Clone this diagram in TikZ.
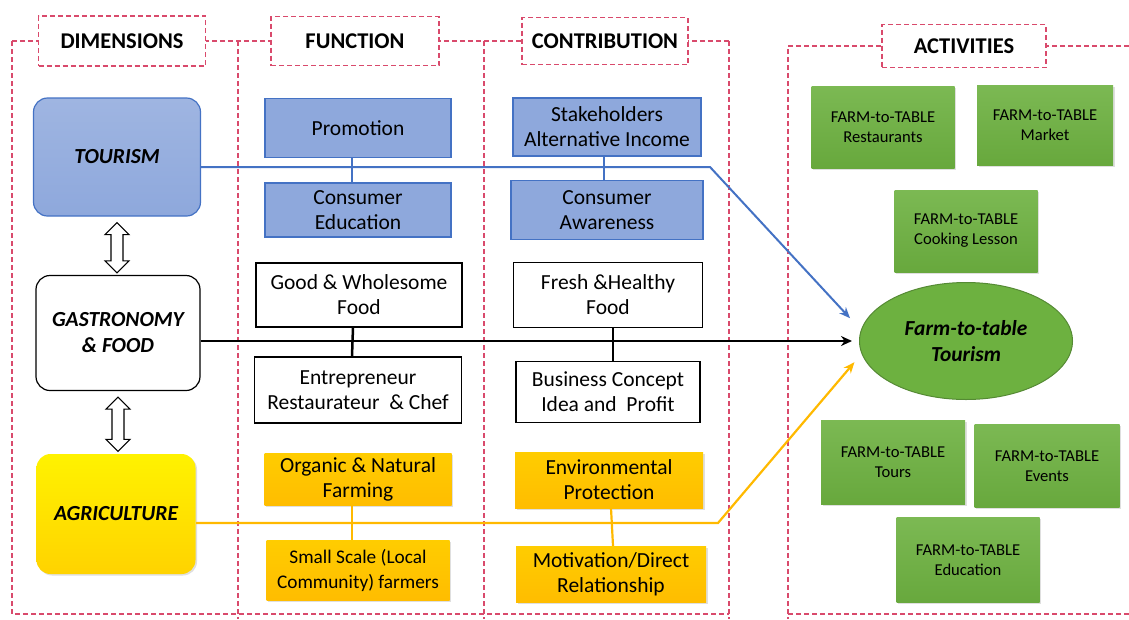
\documentclass[tikz,border=0pt]{standalone}
\usepackage{fontspec}
\setmainfont{Carlito}
\usetikzlibrary{arrows.meta,shapes.geometric,shadows,calc}

\definecolor{dashred}{HTML}{D94A6C}
\definecolor{tourblue}{HTML}{8EA8DC}
\definecolor{lineblue}{HTML}{4472C4}
\definecolor{farmgold}{HTML}{FFC000}
\definecolor{linegold}{HTML}{FFB900}
\definecolor{leafgreen}{HTML}{6DB140}
\definecolor{darkgreen}{HTML}{558A34}

\tikzset{
  dashline/.style={dashred, line width=1.1pt, dash pattern=on 5pt off 3pt},
  headbox/.style={draw=dashred, line width=1.1pt, dash pattern=on 5pt off 3pt,
    fill=white, font=\fontsize{22.5}{26}\selectfont\bfseries},
  dimbox/.style={draw, rounded corners=14pt, line width=1.2pt, align=center,
    font=\fontsize{21.5}{26}\selectfont\bfseries\itshape},
  bluebox/.style={draw=lineblue, fill=tourblue, line width=1.2pt, align=center,
    inner sep=0pt, font=\fontsize{21.5}{25}\selectfont},
  whitebox/.style={draw, fill=white, line width=1.3pt, align=center,
    inner sep=0pt, font=\fontsize{21.5}{25}\selectfont},
  yellowbox/.style={top color=farmgold!80!yellow, bottom color=farmgold!95!orange,
    draw=none, align=center, inner sep=0pt, font=\fontsize{21.5}{25}\selectfont,
    drop shadow={shadow xshift=1.5pt, shadow yshift=-1.5pt, opacity=0.25}},
  greenbox/.style={top color=leafgreen!90!white, bottom color=leafgreen!95!black,
    draw=none, align=center, inner sep=0pt, minimum width=143, minimum height=82,
    font=\fontsize{16.6}{20}\selectfont,
    drop shadow={shadow xshift=1.5pt, shadow yshift=-1.5pt, opacity=0.25}},
  blueline/.style={lineblue, line width=2pt},
  blackline/.style={black, line width=2.5pt},
  goldline/.style={linegold, line width=2.2pt}
}

% hollow two-way block arrow between two nodes
\newcommand\twoway[2]{%
  \draw[line width=1.1pt, fill=white, line join=miter] let \p1=(#1.south), \p2=(#2.north) in
    (\x1,\y1-6pt) -- ++(12pt,-12pt) -- ++(-6pt,0) |- (\x1+6pt,\y2+14pt)
    -- ++(6pt,0) -- (\x1,\y2+2pt) -- ++(-12pt,12pt) -- ++(6pt,0)
    |- (\x1-6pt,\y1-18pt) -- ++(-6pt,0) -- cycle;}

\begin{document}
\begin{tikzpicture}[x=1pt,y=-1pt]
\useasboundingbox (0,0) rectangle (1129,619);

% column frames
\draw[dashline] (12,41) -- (12,614) -- (729,614);
\draw[dashline] (238,41) -- (238,619);
\draw[dashline] (484,41) -- (484,619);
\draw[dashline] (729,41) -- (729,619);
\draw[dashline] (1129,46) -- (788,46) -- (788,619);
\draw[dashline] (788,614) -- (1129,614);
\draw[dashline] (12,41) -- (729,41);

\node[headbox, minimum width=167, minimum height=50] (hdim) at (122,41) {DIMENSIONS};
\node[headbox, minimum width=168, minimum height=49] (hfun) at (355,41) {FUNCTION};
\node[headbox, minimum width=166, minimum height=47] (hcon) at (605,41) {CONTRIBUTION};
\node[headbox, minimum width=164, minimum height=43] (hact) at (964,46) {ACTIVITIES};

% dimensions
\node[dimbox, draw=lineblue, top color=tourblue!85!white, bottom color=tourblue,
  minimum width=167, minimum height=118] (tour) at (117,157) {TOURISM};
\node[dimbox, fill=white, minimum width=164, minimum height=115] (gastro) at (118,333)
  {GASTRONOMY\\\& FOOD};
\node[dimbox, draw=none, top color=yellow!90!orange, bottom color=farmgold!70!yellow,
  minimum width=159, minimum height=120,
  drop shadow={shadow xshift=1.5pt, shadow yshift=-1.5pt, opacity=0.25}] (agri) at (116,514)
  {AGRICULTURE};

\twoway{tour}{gastro}
\twoway{gastro}{agri}

% function
\node[bluebox, minimum width=186, minimum height=59] (promo) at (358,128) {Promotion};
\node[bluebox, minimum width=186, minimum height=54] (cedu) at (358,210) {Consumer\\Education};
\node[whitebox, minimum width=206, minimum height=64] (good) at (359,295) {Good \& Wholesome\\Food};
\node[whitebox, minimum width=207, minimum height=66] (entre) at (358,390)
  {Entrepreneur\\Restaurateur\ \ \& Chef};
\node[yellowbox, minimum width=187, minimum height=52] (organic) at (358,479)
  {Organic \& Natural\\Farming};
\node[yellowbox, minimum width=183, minimum height=60, font=\fontsize{19.3}{25}\selectfont]
  (small) at (358,570) {Small Scale (Local\\Community) farmers};

% contribution
\node[bluebox, minimum width=188, minimum height=58] (stake) at (607,127)
  {Stakeholders\\Alternative Income};
\node[bluebox, minimum width=192, minimum height=59] (caware) at (607,210) {Consumer\\Awareness};
\node[whitebox, minimum width=189, minimum height=65] (fresh) at (608,295) {Fresh \&Healthy\\Food};
\node[whitebox, minimum width=184, minimum height=61] (biz) at (608,392)
  {Business Concept\\Idea and\ \ Profit};
\node[yellowbox, minimum width=188, minimum height=56] (env) at (609,480)
  {Environmental\\Protection};
\node[yellowbox, minimum width=190, minimum height=56] (motiv) at (611,574)
  {Motivation/Direct\\Relationship};

% activities
\node[greenbox] (rest) at (883,127) {FARM-to-TABLE\\Restaurants};
\node[greenbox, minimum width=136, minimum height=80] (market) at (1045,125) {FARM-to-TABLE\\Market};
\node[greenbox] (cook) at (966,231) {FARM-to-TABLE\\Cooking Lesson};
\node[ellipse, fill=leafgreen, draw=darkgreen, line width=1pt, inner sep=0pt,
  minimum width=213, minimum height=117, align=center,
  font=\fontsize{21.4}{26}\selectfont\bfseries\itshape] (eco) at (966,341)
  {Farm-to-table\\Tourism};
\node[greenbox, minimum width=144, minimum height=84] (tours) at (893,462) {FARM-to-TABLE\\Tours};
\node[greenbox, minimum width=145, minimum height=83] (events) at (1047,466) {FARM-to-TABLE\\Events};
\node[greenbox, minimum height=85] (educ) at (968,560) {FARM-to-TABLE\\Education};

% links
\coordinate (bbend) at (710,167);
\coordinate (ybend) at (718,523);
\draw[blueline] ([xshift=-6pt]promo.south) -- ([xshift=-6pt]cedu.north);
\draw[blueline] ([xshift=-3pt]stake.south) -- ([xshift=-3pt]caware.north);
\draw[blueline, -{Stealth[length=11pt,width=9pt]}, shorten >=16pt]
  (tour.east |- bbend) -- (bbend) -- (eco.174);
\draw[blackline] ([xshift=-6pt]good.south) -- ([xshift=-6pt]entre.north);
\draw[blackline] ([xshift=5pt]fresh.south) -- ([xshift=5pt]biz.north);
\draw[blackline, -{Stealth[length=11pt,width=10pt]}, shorten >=7pt]
  (gastro.east |- eco.west) -- (eco.west);
\draw[goldline] ([xshift=-6pt]organic.south) -- ([xshift=-6pt]small.north);
\draw[goldline] ([xshift=2pt]env.south) -- ([xshift=2pt]motiv.north);
\draw[goldline, -{Stealth[length=11pt,width=9pt]}, shorten >=11pt]
  (agri.east |- ybend) -- (ybend) -- (eco.187);
\end{tikzpicture}
\end{document}
